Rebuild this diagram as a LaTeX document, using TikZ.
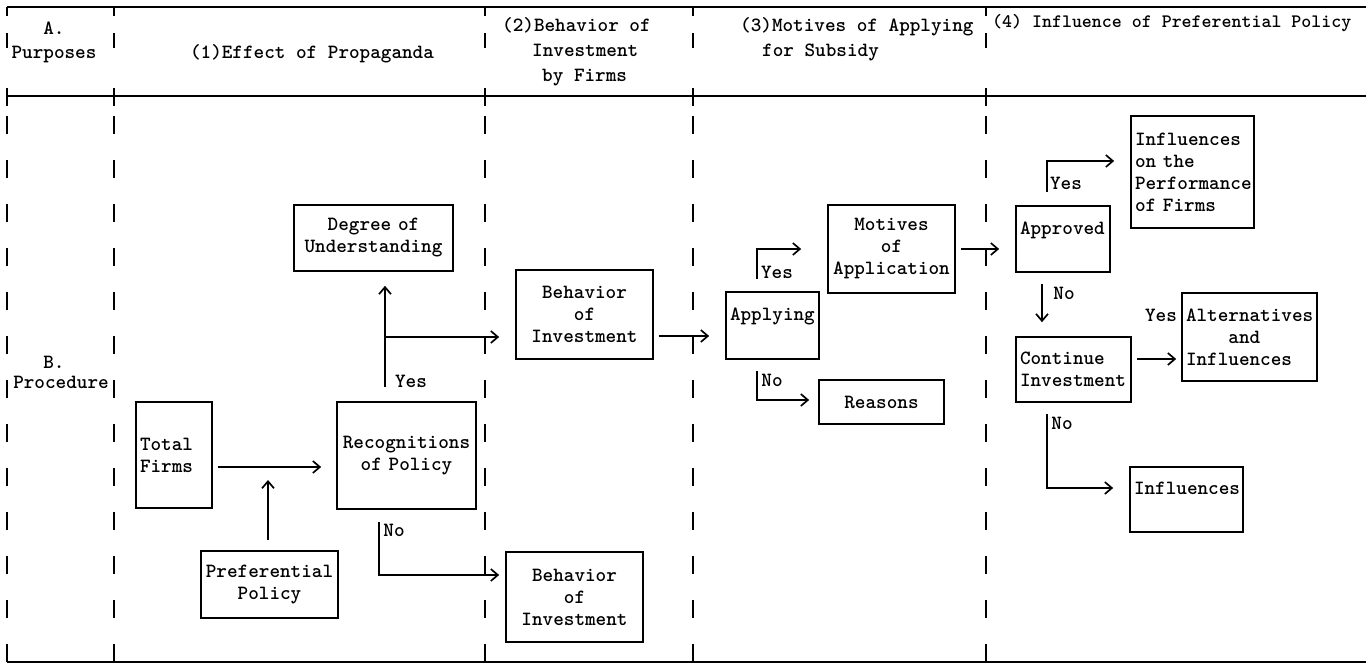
\documentclass[tikz,border=0pt]{standalone}
\usepackage{fontspec}
\usetikzlibrary{arrows.meta}
\newcommand\tfont{\ttfamily\bfseries\fontsize{20.2}{22}\selectfont}
\newcommand\tfontsmall{\ttfamily\bfseries\fontsize{19}{22}\selectfont}
\tikzset{
  every node/.style={font=\tfont},
  box/.style={draw, line width=1.7pt, inner xsep=4pt, inner ysep=2pt},
  arr/.style={line width=1.7pt, -{Straight Barb[length=7pt,width=12pt]}},
  rule/.style={line width=1.9pt},
  divider/.style={line width=1.9pt, dash pattern=on 18pt off 26pt},
  lbl/.style={anchor=base, inner sep=0pt},
  hdr/.style={anchor=base west, inner sep=0pt},
}
\begin{document}
\begin{tikzpicture}[x=1pt,y=-1pt]
\useasboundingbox (0,0) rectangle (1366,664);
% frame lines
\draw[rule] (7,7) -- (1366,7);
\draw[rule] (7,96) -- (1366,96);
\draw[rule] (7,662) -- (1366,662);
\foreach \x in {7,114,485,693,986}{
  \draw[rule] (\x,7) -- (\x,16) (\x,33) -- (\x,48) (\x,88) -- (\x,106);
  \draw[divider] (\x,662) -- (\x,110);
}
% header texts
\node[lbl] (hA) at (54,34) {A.};
\node[lbl] (hPur) at (54,58) {Purposes};
\node[lbl] (h1) at (312,58) {(1)Effect of Propaganda};
\node[hdr] (h2a) at (502,31) {(2)Behavior of};
\node[hdr] (h2b) at (532,56) {Investment};
\node[hdr] (h2c) at (542,81) {by Firms};
\node[hdr] (h3a) at (740,31) {(3)Motives of Applying};
\node[hdr] (h3b) at (762,56) {for Subsidy};
\node[hdr, font=\tfontsmall] (h4) at (992,27) {(4) Influence of Preferential Policy};
\node[lbl] (hB) at (54,368) {B.};
\node[lbl] (hProc) at (61,388) {Procedure};
% boxes
\node[box, text width=68pt, minimum height=106pt, align=left] (tf) at (174,455) {Total\\Firms};
\node[box, text width=131pt, minimum height=107pt, align=center] (rec) at (406.5,455.5) {Recognitions\\of Policy};
\node[box, text width=151pt, minimum height=66pt, align=center] (deg) at (373.5,238) {Degree of\\Understanding};
\node[box, text width=129pt, minimum height=67pt, align=center] (pref) at (269.5,584.5) {Preferential\\Policy};
\node[box, text width=129pt, minimum height=89pt, align=center] (beh1) at (584.5,314.5) {Behavior\\of\\Investment};
\node[box, text width=129pt, minimum height=90pt, align=center] (beh2) at (574.5,597) {Behavior\\of\\Investment};
\node[box, text width=85pt, minimum height=67pt, align=left] (app) at (772.5,325.5) {Applying\\\mbox{}};
\node[box, text width=119pt, minimum height=88pt, align=center] (mot) at (891.5,249) {Motives\\of\\Application};
\node[box, text width=117pt, minimum height=44pt, align=center] (rea) at (881.5,402) {Reasons};
\node[box, text width=86pt, minimum height=66pt, align=left] (apr) at (1063,239) {Approved\\\mbox{}};
\node[box, text width=115pt, minimum height=112pt, align=left] (inf1) at (1192.5,172) {Influences\\on the\\Performance\\of Firms};
\node[box, text width=107pt, minimum height=65pt, align=left] (cont) at (1073.5,369.5) {Continue\\Investment};
\node[box, text width=127pt, minimum height=88pt, align=left] (alt) at (1249.5,337) {Alternatives\\\phantom{Alte}and\\Influences};
\node[box, text width=105pt, minimum height=65pt, align=left] (inf2) at (1186.5,499.5) {Influences\\\mbox{}};
% junction coordinates
\coordinate (j1) at (268,467);
\coordinate (j2) at (385,337);
\coordinate (j3) at (379,575);
\coordinate (j4) at (658,336);
\coordinate (j5) at (757,249);
\coordinate (j6) at (757,400);
\coordinate (j7) at (1047,161);
\coordinate (j8) at (1042,300);
\coordinate (j9) at (1150,359);
\coordinate (j10) at (1047,488);
% connectors
\draw[arr, shorten <=5pt, shorten >=15pt] (tf.east |- j1) -- (rec.west |- j1);
\draw[arr, shorten <=10pt, shorten >=13pt] (pref.north -| j1) -- (j1);
\draw[arr, shorten <=14pt, shorten >=14pt] (rec.north -| j2) -- (deg.south -| j2);
\draw[arr, shorten >=16pt] (j2) -- (beh1.west |- j2);
\draw[arr, shorten <=12pt, shorten >=6pt] (rec.south -| j3) -- (j3) -- (beh2.west |- j3);
\draw[arr, shorten <=5pt, shorten >=16pt] (beh1.east |- j4) -- (app.west |- j4);
\draw[arr, shorten <=12pt, shorten >=26pt] (app.north -| j5) -- (j5) -- (mot.west |- j5);
\draw[arr, shorten <=11pt, shorten >=9pt] (app.south -| j6) -- (j6) -- (rea.west |- j6);
\draw[arr, shorten <=5pt, shorten >=16pt] (mot.east) -- (apr.west |- mot.east);
\draw[arr, shorten <=13pt, shorten >=16pt] (apr.north -| j7) -- (j7) -- (inf1.west |- j7);
\draw[arr, shorten <=11pt, shorten >=14pt] (apr.south -| j8) -- (cont.north -| j8);
\draw[arr, shorten <=5pt, shorten >=5pt] (cont.east |- j9) -- (alt.west |- j9);
\draw[arr, shorten <=11pt, shorten >=16pt] (cont.south -| j10) -- (j10) -- (inf2.west |- j10);
% labels
\node[lbl] (y1) at (411,387) {Yes};
\node[lbl] (n1) at (394,536) {No};
\node[lbl] (y2) at (777,278) {Yes};
\node[lbl] (n2) at (772,386) {No};
\node[lbl] (y3) at (1066,189) {Yes};
\node[lbl] (n3) at (1064,299) {No};
\node[lbl] (y4) at (1161,321) {Yes};
\node[lbl] (n4) at (1062,429) {No};
\end{tikzpicture}
\end{document}
